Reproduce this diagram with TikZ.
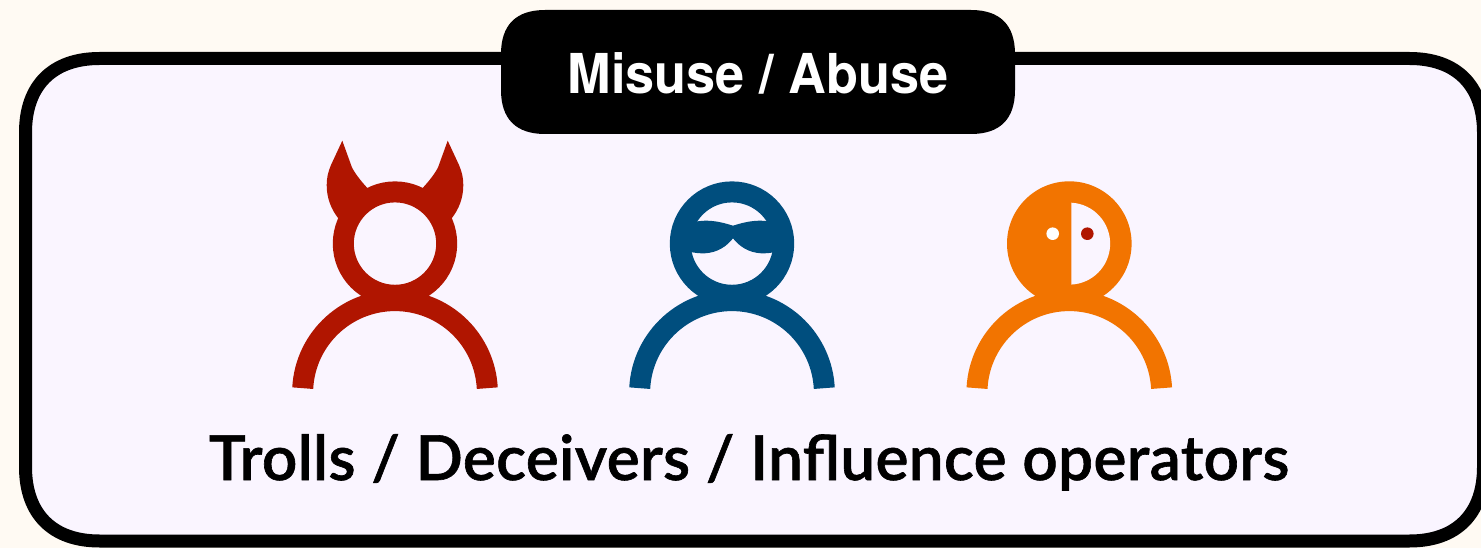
\documentclass[tikz,border=0pt]{standalone}
\usepackage{fontspec}
\setmainfont{Lato}
\newfontfamily\labelfont[LetterSpace=0.6,FakeBold=1]{Lato Semibold}
\newfontfamily\titlefont[FakeStretch=0.95]{TeX Gyre Heros Bold}
\definecolor{pagebg}{HTML}{FFFAF3}
\definecolor{panelbg}{HTML}{FAF5FF}
\definecolor{devilred}{HTML}{B01500}
\definecolor{shadyblue}{HTML}{004E7E}
\definecolor{twoorange}{HTML}{F27400}
\tikzset{
  panel/.style={draw=black,line width=13pt,fill=panelbg},
  tabbox/.style={fill=black},
  tabtext/.style={text=white,font=\fontsize{55}{60}\selectfont\titlefont,inner sep=0pt,anchor=base},
  captiontext/.style={text=black,font=\fontsize{62}{70}\selectfont\labelfont,inner sep=0pt,anchor=base},
  bodyline/.style={line width=21pt,line cap=butt},
  headline/.style={line width=21pt}
}
\begin{document}
\begin{tikzpicture}[x=1pt,y=1pt,yscale=-1]
\useasboundingbox (0,0) rectangle (1481,548);
\fill[pagebg] (0,0) rectangle (1481,548);
\draw[panel] (25.5,132.5) .. controls (25.5,85.5) and (52.5,58.5) .. (99.5,58.5)
  -- (1409.5,58.5) .. controls (1456.5,58.5) and (1483.5,85.5) .. (1483.5,132.5)
  -- (1483.5,467) .. controls (1483.5,514) and (1456.5,541) .. (1409.5,541)
  -- (99.5,541) .. controls (52.5,541) and (25.5,514) .. (25.5,467) -- cycle;
\fill[tabbox] (501,54) .. controls (501,25) and (516,10) .. (545,10)
  -- (971,10) .. controls (1000,10) and (1015,25) .. (1015,54)
  -- (1015,90) .. controls (1015,119) and (1000,134) .. (971,134)
  -- (545,134) .. controls (516,134) and (501,119) .. (501,90) -- cycle;
\node[tabtext] (title) at (758,94) {Misuse / Abuse};
% devil
\draw[devilred,bodyline] (395,393) ++(183:92.4) arc[start angle=183,end angle=357,radius=92.4];
\fill[devilred] (342.3,140.7) -- (331,165) .. controls (328,172) and (326.7,178) .. (326.7,185)
  .. controls (326.7,198) and (331,209) .. (338.3,218.3) -- (352,228) -- (372,195) -- (366.7,187.3)
  .. controls (360,180) and (354,172) .. (351.7,166.7) -- cycle;
\fill[devilred] (447.7,140.7) -- (459,165) .. controls (462,172) and (463.3,178) .. (463.3,185)
  .. controls (463.3,198) and (459,209) .. (451.7,218.3) -- (438,228) -- (418,195) -- (423.3,187.3)
  .. controls (430,180) and (436,172) .. (438.3,166.7) -- cycle;
\draw[devilred,headline] (395,243.6) circle[radius=51.7];
% shady
\draw[shadyblue,bodyline] (732,393) ++(183:92.4) arc[start angle=183,end angle=357,radius=92.4];
\draw[shadyblue,headline] (732,243.6) circle[radius=51.7];
\fill[shadyblue] (733,225.7) .. controls (726,223.5) and (716,220.5) .. (705,220.7)
  .. controls (700,220.8) and (696,221.5) .. (690,223) -- (688,251.5)
  .. controls (695,253) and (700,253.5) .. (705,253.3)
  .. controls (718,252.5) and (727,246) .. (733,238.3)
  .. controls (739,246) and (748,252.5) .. (761,253.3)
  .. controls (766,253.5) and (771,253) .. (778,251.5) -- (776,223)
  .. controls (770,221.5) and (766,220.8) .. (761,220.7)
  .. controls (750,220.5) and (740,223.5) .. (733,225.7) -- cycle;
% two-faced
\draw[twoorange,bodyline] (1069.3,393) ++(183:92.4) arc[start angle=183,end angle=357,radius=92.4];
\fill[twoorange] (1069.3,243.6) circle[radius=62.3];
\fill[panelbg] (1071.3,202.7) arc[start angle=-87,end angle=87,radius=41] -- cycle;
\fill[white] (1052.7,233.7) circle[radius=6.3];
\fill[devilred] (1087.3,233.7) circle[radius=6.3];
\node[captiontext] (caption) at (749,480) {Trolls / Deceivers / Influence operators};
\end{tikzpicture}
\end{document}
